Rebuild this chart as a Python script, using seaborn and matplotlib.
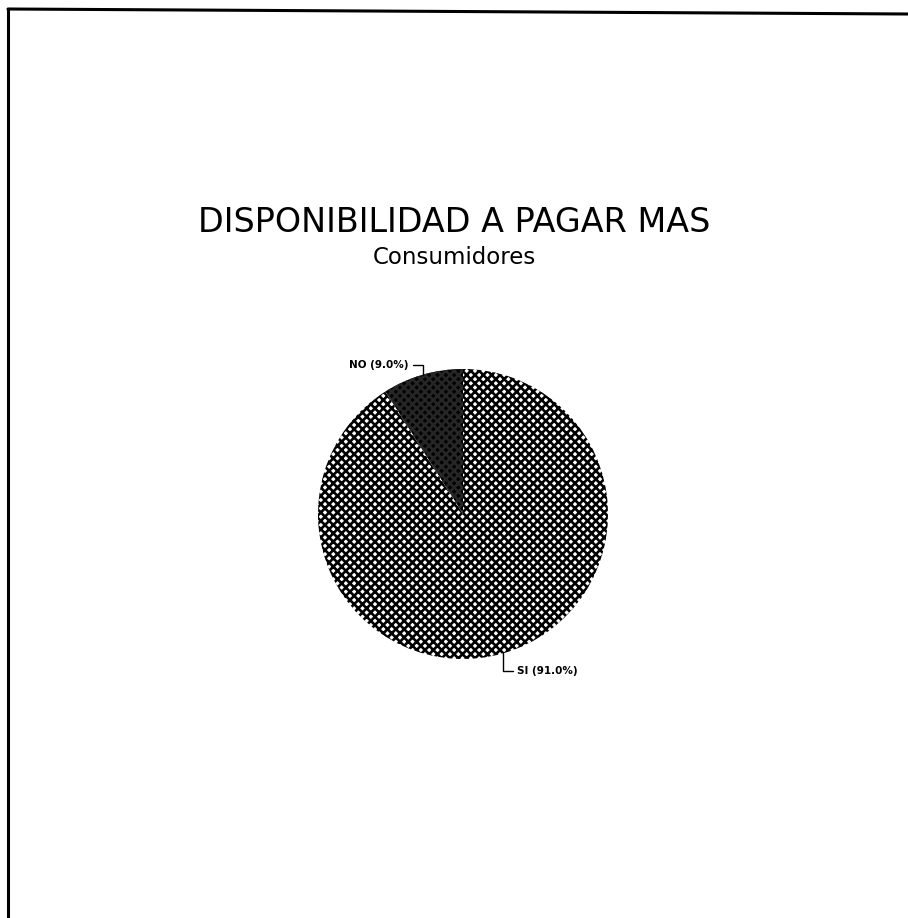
import matplotlib
matplotlib.use("Agg")
import matplotlib.pyplot as plt
from matplotlib.lines import Line2D
import numpy as np
import seaborn as sns

# datos del grafico
categorias = ["NO", "SI"]
porcentajes = [9.0, 91.0]
titulo = "DISPONIBILIDAD A PAGAR MAS"
subtitulo = "Consumidores"

sns.set_style("white")
plt.rcParams['font.family'] = ['DejaVu Sans']
plt.rcParams['text.color'] = 'black'
plt.rcParams['hatch.linewidth'] = 1.9

W, H = 908, 918
fig = plt.figure(figsize=(W / 100, H / 100), dpi=100)
fig.patch.set_facecolor("white")

# pie centrado en (463, 514) px con radio 145 px
cx, cy, r = 463, 514, 145
ax = fig.add_axes([(cx - r) / W, (H - cy - r) / H, 2 * r / W, 2 * r / H])

wedges, _ = ax.pie(porcentajes, startangle=90, counterclock=True,
                   wedgeprops=dict(linewidth=0))
ax.set_xlim(-1, 1)
ax.set_ylim(-1, 1)

# tramas de los sectores
estilos = {"NO": ("#000000", "#262626", "xxxx"), "SI": ("white", "black", "xxxx")}
for w, cat in zip(wedges, categorias):
    fc, hc, hatch = estilos[cat]
    w.set_facecolor(fc)
    w.set_edgecolor(hc)
    w.set_hatch(hatch)

# etiquetas con lineas guia
offsets = {"NO": (-10, 7, "right"), "SI": (10, -13, "left")}
for w, cat, val in zip(wedges, categorias, porcentajes):
    ang = np.deg2rad((w.theta1 + w.theta2) / 2)
    x, y = np.cos(ang), np.sin(ang)
    dx, dy, ha = offsets[cat]
    ax.annotate(f"{cat} ({val:.1f}%)", xy=(x, y), xytext=(dx, dy),
                textcoords="offset points", ha=ha, va="center",
                fontsize=7.5, fontweight="bold", color="black",
                annotation_clip=False,
                arrowprops=dict(arrowstyle="-", color="black", lw=1,
                                shrinkA=1, shrinkB=0,
                                connectionstyle="angle,angleA=0,angleB=90,rad=0"))

fig.text(0.5, 1 - 232 / H, titulo, ha="center", va="baseline", fontsize=24,
         color="black")
fig.text(0.5, 1 - 264 / H, subtitulo, ha="center", va="baseline", fontsize=16.5,
         color="black")

# marco del documento escaneado
fig.add_artist(Line2D([8 / W, 8 / W], [1 - 9 / H, 0], color="black", lw=2.2,
                      transform=fig.transFigure))
fig.add_artist(Line2D([8 / W, 1], [1 - 9 / H, 1 - 14 / H], color="black", lw=2.2,
                      transform=fig.transFigure))

fig.savefig("out.png", dpi=100)
